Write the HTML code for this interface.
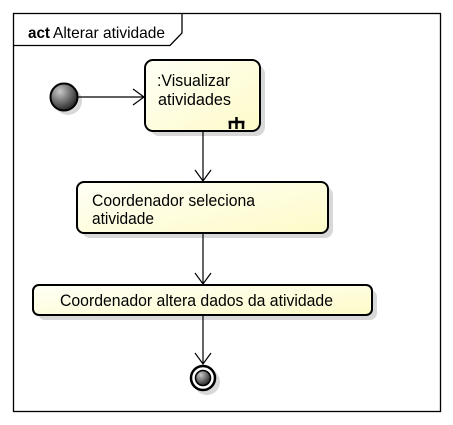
<!DOCTYPE html>
<html><head><meta charset="utf-8"><style>html,body{margin:0;padding:0;background:#fff}svg{display:block}</style></head><body>
<svg width="453" height="425" viewBox="0 0 453 425" xmlns="http://www.w3.org/2000/svg" font-family="Liberation Sans, sans-serif">
<defs>
<linearGradient id="g" x1="0" y1="0" x2="1" y2="1"><stop offset="0" stop-color="#fffff6"/><stop offset="1" stop-color="#fdfbc8"/></linearGradient>
<radialGradient id="b" cx="0.35" cy="0.3" r="0.75"><stop offset="0" stop-color="#c8c8c8"/><stop offset="1" stop-color="#202020"/></radialGradient>
</defs>
<rect x="13.5" y="13.5" width="427" height="398" fill="#fff" stroke="#000" stroke-width="1.3"/>
<path d="M13.5 45.5 H170 L182 33 V13.5" fill="none" stroke="#000" stroke-width="1.3"/>
<text x="28" y="38" font-size="16" font-weight="bold" textLength="22" lengthAdjust="spacingAndGlyphs">act</text>
<text x="53" y="38" font-size="16" textLength="112" lengthAdjust="spacingAndGlyphs">Alterar atividade</text>
<g fill="#d8d8d8">
<circle cx="68" cy="101" r="14"/>
<rect x="150" y="65" width="115" height="71" rx="9"/>
<rect x="82" y="187" width="251" height="51" rx="8"/>
<rect x="38" y="290" width="339" height="30" rx="7"/>
<circle cx="207" cy="382" r="13"/>
</g>
<circle cx="64" cy="97" r="13.5" fill="url(#b)" stroke="#000" stroke-width="2"/>
<rect x="145" y="60" width="115" height="71" rx="8" fill="url(#g)" stroke="#000" stroke-width="2"/>
<text x="157" y="86" font-size="17" textLength="73" lengthAdjust="spacingAndGlyphs">:Visualizar</text>
<text x="158" y="105" font-size="17" textLength="73" lengthAdjust="spacingAndGlyphs">atividades</text>
<path d="M230 129 V122 M236.5 129 V117 M243 129 V122 M228.5 122 H244.5" stroke="#000" stroke-width="2.5" fill="none"/>
<rect x="77" y="182" width="251" height="51" rx="7" fill="url(#g)" stroke="#000" stroke-width="2"/>
<text x="92" y="206" font-size="17" textLength="163" lengthAdjust="spacingAndGlyphs">Coordenador seleciona</text>
<text x="92" y="224" font-size="17" textLength="62" lengthAdjust="spacingAndGlyphs">atividade</text>
<rect x="33" y="285" width="339" height="30" rx="6" fill="url(#g)" stroke="#000" stroke-width="2"/>
<text x="60" y="306" font-size="17" textLength="273" lengthAdjust="spacingAndGlyphs">Coordenador altera dados da atividade</text>
<circle cx="203" cy="378" r="12" fill="#fff" stroke="#000" stroke-width="2.5"/>
<circle cx="203" cy="378" r="7.5" fill="url(#b)" stroke="#000" stroke-width="1.5"/>
<g stroke="#000" stroke-width="1.2" fill="none">
<path d="M78 97 H144 M133 89 L144 97 L133 105"/>
<path d="M203 131 V181 M195 170 L203 181 L211 170"/>
<path d="M203 233 V284 M195 273 L203 284 L211 273"/>
<path d="M203 315 V364 M195 353 L203 364 L211 353"/>
</g>
</svg>
</body></html>
